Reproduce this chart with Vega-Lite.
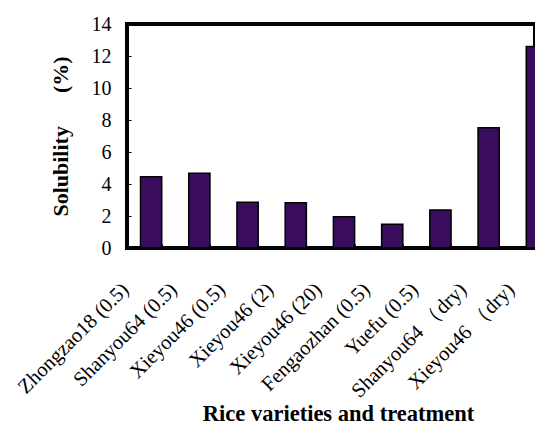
{
  "$schema": "https://vega.github.io/schema/vega-lite/v6.json",
  "width": 408,
  "height": 224,
  "autosize": {"type": "none"},
  "padding": {"left": 127, "top": 24, "right": 0, "bottom": 177},
  "background": "white",
  "view": {"stroke": "black", "strokeWidth": 4},
  "config": {
    "font": "Liberation Serif"
  },
  "data": {
    "values": [
      {"variety": "Zhongzao18 (0.5)", "solubility": 4.46},
      {"variety": "Shanyou64 (0.5)", "solubility": 4.67},
      {"variety": "Xieyou46 (0.5)", "solubility": 2.86},
      {"variety": "Xieyou46 (2)", "solubility": 2.83},
      {"variety": "Xieyou46 (20)", "solubility": 1.96},
      {"variety": "Fengaozhan (0.5)", "solubility": 1.48},
      {"variety": "Yuefu (0.5)", "solubility": 2.38},
      {"variety": "Shanyou64 （dry)", "solubility": 7.52},
      {"variety": "Xieyou46 （dry)", "solubility": 12.6}
    ]
  },
  "mark": {"type": "bar", "color": "#3a0c5c", "stroke": "black", "strokeWidth": 1.5},
  "encoding": {
    "x": {
      "field": "variety",
      "type": "nominal",
      "sort": null,
      "scale": {"paddingInner": 0.56, "paddingOuter": 0.28, "range": [0, 434]},
      "axis": {
        "title": "Rice varieties and treatment",
        "titleFont": "Liberation Serif",
        "titleFontSize": 22.5,
        "titleFontWeight": "bold",
        "titleColor": "black",
        "titleX": 211,
        "titleY": 172,
        "titleAlign": "center",
        "titleBaseline": "alphabetic",
        "labelAngle": -45,
        "labelFont": "Liberation Serif",
        "labelFontSize": 20.5,
        "labelColor": "black",
        "labelPadding": 35,
        "labelOffset": -33,
        "domain": false,
        "ticks": true,
        "tickBand": "extent",
        "tickSize": -4,
        "tickColor": "black",
        "grid": false
      }
    },
    "y": {
      "field": "solubility",
      "type": "quantitative",
      "scale": {"domain": [0, 14]},
      "axis": {
        "title": "Solubility\u00a0\u00a0\u00a0\u00a0\u00a0\u00a0(%)",
        "titleFont": "Liberation Serif",
        "titleFontSize": 22,
        "titleFontWeight": "bold",
        "titleColor": "black",
        "titlePadding": 19,
        "values": [0, 2, 4, 6, 8, 10, 12, 14],
        "labelFont": "Liberation Serif",
        "labelFontSize": 20,
        "labelColor": "black",
        "labelPadding": 20,
        "domain": false,
        "tickSize": -4,
        "tickColor": "black",
        "grid": false
      }
    }
  }
}
